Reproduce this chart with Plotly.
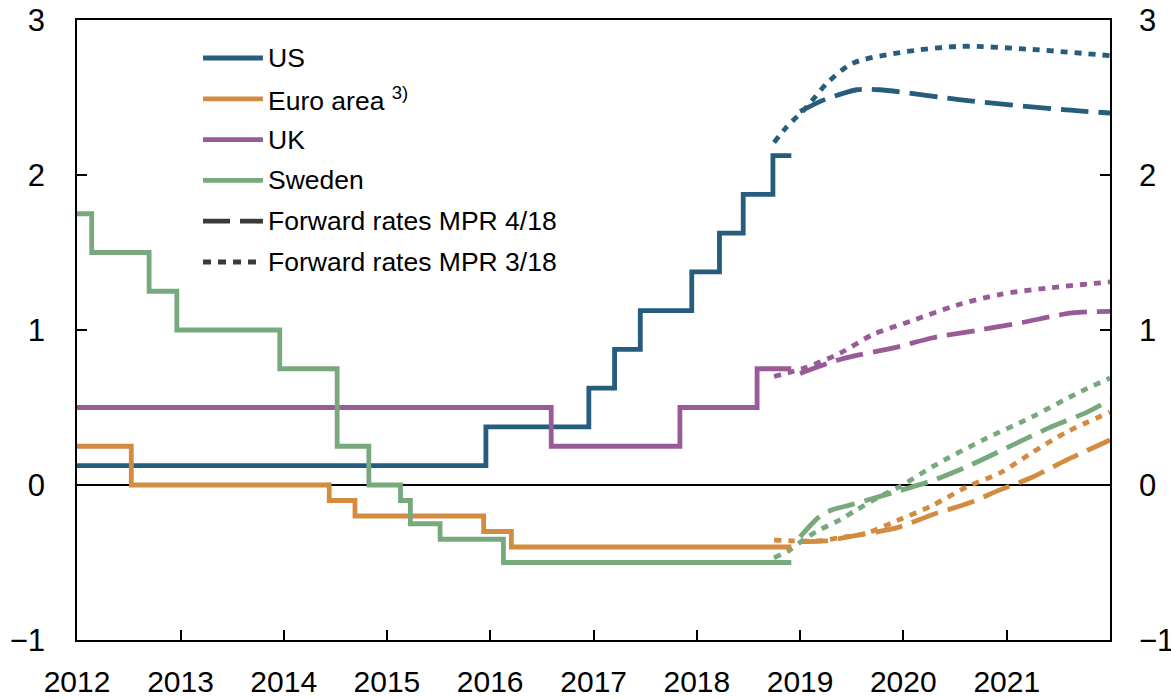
"""Policy rates and forward rates: US, euro area, UK and Sweden."""

import plotly.graph_objects as go

# ---- data -----------------------------------------------------------------
us_dates = ["2012-01-01", "2015-12-17", "2016-12-15", "2017-03-16", "2017-06-15",
            "2017-12-14", "2018-03-22", "2018-06-14", "2018-09-27", "2018-12-01"]
us_rates = [0.125, 0.375, 0.625, 0.875, 1.125, 1.375, 1.625, 1.875, 2.125, 2.125]

euro_dates = ["2012-01-01", "2012-07-11", "2014-06-11", "2014-09-10", "2015-12-09",
              "2016-03-16", "2018-12-01"]
euro_rates = [0.25, 0.0, -0.1, -0.2, -0.3, -0.4, -0.4]

uk_dates = ["2012-01-01", "2016-08-04", "2017-11-02", "2018-08-02", "2018-12-01"]
uk_rates = [0.5, 0.25, 0.5, 0.75, 0.75]

se_dates = ["2012-01-01", "2012-02-22", "2012-09-12", "2012-12-19", "2013-12-18",
            "2014-07-09", "2014-10-29", "2015-02-18", "2015-03-25", "2015-07-08",
            "2016-02-17", "2018-12-01"]
se_rates = [1.75, 1.5, 1.25, 1.0, 0.75, 0.25, 0.0, -0.1, -0.25, -0.35, -0.5, -0.5]

# forward rates, MPR 4/18 (dashed)
us_fwd4_dates = ["2019-01-01", "2019-03-20", "2019-05-22", "2019-07-20", "2019-10-08",
                 "2020-08-15", "2021-07-30", "2022-01-01"]
us_fwd4 = [2.41, 2.48, 2.52, 2.55, 2.55, 2.48, 2.42, 2.40]

euro_fwd4_dates = ["2019-01-01", "2019-04-05", "2019-07-05", "2019-10-08", "2019-12-20",
                   "2020-04-15", "2020-08-15", "2020-12-10", "2021-04-01", "2021-07-30",
                   "2022-01-01"]
euro_fwd4 = [-0.365, -0.36, -0.33, -0.30, -0.27, -0.19, -0.12, -0.03, 0.05, 0.16, 0.29]

uk_fwd4_dates = ["2019-01-01", "2019-05-22", "2019-12-10", "2020-04-15", "2020-09-27",
                 "2021-03-01", "2021-08-20", "2022-01-01"]
uk_fwd4 = [0.72, 0.81, 0.89, 0.95, 1.00, 1.05, 1.11, 1.12]

se_fwd4_dates = ["2019-01-01", "2019-03-10", "2019-04-25", "2019-06-25", "2019-10-08",
                 "2020-04-15", "2020-08-15", "2021-02-05", "2021-06-01", "2021-10-12",
                 "2022-01-01"]
se_fwd4 = [-0.335, -0.205, -0.16, -0.13, -0.075, 0.03, 0.12, 0.27, 0.37, 0.47, 0.55]

# forward rates, MPR 3/18 (dotted)
us_fwd3_dates = ["2018-10-01", "2018-11-15", "2019-01-25", "2019-04-05", "2019-07-05",
                 "2019-12-20", "2020-07-20", "2021-04-01", "2022-01-01"]
us_fwd3 = [2.21, 2.31, 2.44, 2.59, 2.72, 2.79, 2.83, 2.81, 2.77]

euro_fwd3_dates = ["2018-10-01", "2018-12-01", "2019-03-10", "2019-05-22", "2019-08-25",
                   "2019-12-10", "2020-04-15", "2020-08-15", "2020-12-10", "2021-04-01",
                   "2021-07-30", "2022-01-01"]
euro_fwd3 = [-0.355, -0.36, -0.36, -0.34, -0.31, -0.23, -0.13, -0.01, 0.08, 0.21, 0.34, 0.47]

uk_fwd3_dates = ["2018-10-01", "2019-01-25", "2019-05-22", "2019-09-15", "2020-02-01",
                 "2020-07-08", "2020-12-10", "2021-05-22", "2022-01-01"]
uk_fwd3 = [0.70, 0.76, 0.85, 0.97, 1.06, 1.16, 1.23, 1.27, 1.31]

se_fwd3_dates = ["2018-10-01", "2018-11-25", "2019-01-12", "2019-02-28", "2019-05-22",
                 "2019-07-20", "2019-10-20", "2019-12-20", "2020-04-15", "2020-10-08",
                 "2021-04-01", "2021-09-05", "2022-01-01"]
se_fwd3 = [-0.47, -0.42, -0.355, -0.30, -0.225, -0.16, -0.065, -0.01, 0.12, 0.29, 0.44, 0.59, 0.69]

year_ticks = [f"{y}-01-01" for y in range(2012, 2022)]
year_labels = [str(y) for y in range(2012, 2022)]
y_ticks = [-1, 0, 1, 2, 3]
y_labels = ["\u22121", "0", "1", "2", "3"]

legend_names = ["US", "Euro area <sup>3)</sup>", "UK", "Sweden",
                "Forward rates MPR 4/18", "Forward rates MPR 3/18"]

# ---- style ----------------------------------------------------------------
COLORS = {"US": "#265d7c", "Euro": "#d38b40", "UK": "#985b98", "Sweden": "#78a97c"}
FONT = "Liberation Sans, Arial, Helvetica, sans-serif"
DASH = "28px,10px"
DOT = "7px,7px"
LEGEND_GRAY = "#3a3a3a"
LINE_W = 4.8


def add_legend(fig: go.Figure) -> None:
    """Hand-drawn legend: long key lines like the original chart."""
    keys = [
        (COLORS["US"], "solid"),
        (COLORS["Euro"], "solid"),
        (COLORS["UK"], "solid"),
        (COLORS["Sweden"], "solid"),
        (LEGEND_GRAY, "27px,10px"),
        (LEGEND_GRAY, "8px,7px"),
    ]
    x0, x1, xt = 0.122, 0.180, 0.183
    top, step = 0.9387, 0.0658
    for i, ((color, dash), name) in enumerate(zip(keys, legend_names)):
        yy = top - i * step
        fig.add_shape(type="line", xref="paper", yref="paper", x0=x0, x1=x1, y0=yy, y1=yy,
                      line=dict(color=color, width=LINE_W, dash=dash))
        fig.add_annotation(xref="paper", yref="paper", x=xt, y=yy, text=name, showarrow=False,
                           xanchor="left", yanchor="middle", font=dict(family=FONT, size=26.5, color="black"))


def main() -> None:
    fig = go.Figure()

    policy = [
        (us_dates, us_rates, COLORS["US"]),
        (euro_dates, euro_rates, COLORS["Euro"]),
        (uk_dates, uk_rates, COLORS["UK"]),
        (se_dates, se_rates, COLORS["Sweden"]),
    ]
    forwards = [
        (us_fwd4_dates, us_fwd4, us_fwd3_dates, us_fwd3, COLORS["US"]),
        (euro_fwd4_dates, euro_fwd4, euro_fwd3_dates, euro_fwd3, COLORS["Euro"]),
        (uk_fwd4_dates, uk_fwd4, uk_fwd3_dates, uk_fwd3, COLORS["UK"]),
        (se_fwd4_dates, se_fwd4, se_fwd3_dates, se_fwd3, COLORS["Sweden"]),
    ]

    for x4, y4, x3, y3, color in forwards:
        fig.add_trace(go.Scatter(x=x3, y=y3, mode="lines",
                                 line=dict(color=color, width=LINE_W, dash=DOT, shape="spline", smoothing=0.8)))
        fig.add_trace(go.Scatter(x=x4, y=y4, mode="lines",
                                 line=dict(color=color, width=LINE_W, dash=DASH, shape="spline", smoothing=0.8)))

    for x, y, color in policy:
        fig.add_trace(go.Scatter(x=x, y=y, mode="lines", line=dict(color=color, width=LINE_W, shape="hv")))

    # invisible trace so the right-hand axis is drawn
    fig.add_trace(go.Scatter(x=[year_ticks[0]], y=[0], yaxis="y2", mode="markers",
                             marker=dict(opacity=0), hoverinfo="skip"))

    add_legend(fig)

    axis_common = dict(showgrid=False, ticks="inside", ticklen=10, tickwidth=1.5,
                       tickcolor="black", linecolor="black", linewidth=1.5, automargin=False,
                       ticklabeloverflow="allow",
                       tickfont=dict(family=FONT, size=31, color="black"))

    fig.update_layout(
        width=1171,
        height=699,
        margin=dict(l=77, r=61, t=20, b=59),
        plot_bgcolor="white",
        paper_bgcolor="white",
        font=dict(family=FONT, color="black"),
        showlegend=False,
        xaxis=dict(type="date", range=["2012-01-01", "2022-01-01"], tickvals=year_ticks,
                   ticktext=year_labels, mirror=True, ticklabelstandoff=14, **axis_common),
        yaxis=dict(range=[-1, 3], tickvals=y_ticks, ticktext=y_labels, zeroline=True,
                   zerolinecolor="black", zerolinewidth=1.5, ticklabelstandoff=24, **axis_common),
        yaxis2=dict(range=[-1, 3], tickvals=y_ticks, ticktext=y_labels, overlaying="y",
                    side="right", zeroline=False, ticklabelstandoff=21, **axis_common),
    )
    fig.update_xaxes(tickfont_size=30)

    # drop the default 8px page margin so the figure sits at the window's corner
    fig.write_html("out.html", config={"displayModeBar": False},
                   post_script="document.body.style.margin = '0';")


if __name__ == "__main__":
    main()
